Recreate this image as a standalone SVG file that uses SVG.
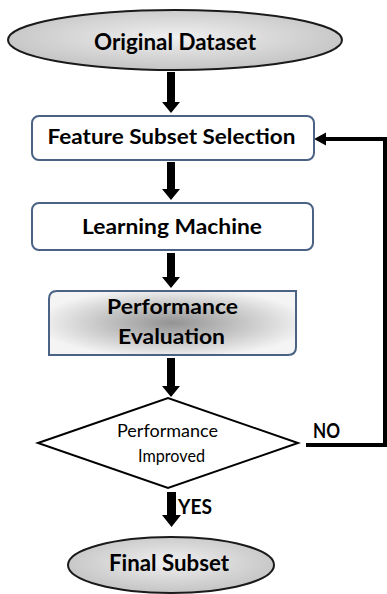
<svg xmlns="http://www.w3.org/2000/svg" width="387" height="594" viewBox="0 0 387 594">
  <defs>
    <radialGradient id="ellGrad" cx="50%" cy="45%" r="55%">
      <stop offset="0%" stop-color="#f0f0f0"/>
      <stop offset="100%" stop-color="#c4c4c4"/>
    </radialGradient>
    <radialGradient id="evalGrad" cx="50%" cy="50%" r="55%">
      <stop offset="0%" stop-color="#939393"/>
      <stop offset="100%" stop-color="#f4f4f4"/>
    </radialGradient>
  </defs>
  <style>
    .ell { fill: url(#ellGrad); stroke: #1a1a1a; stroke-width: 2; }
    .box { fill: #ffffff; stroke: #4a6385; stroke-width: 2; }
    .evalbox { fill: url(#evalGrad); stroke: #4a6385; stroke-width: 2; }
    .dia { fill: #ffffff; stroke: #000000; stroke-width: 2; }
    .t { font-family: Lato, "Open Sans", "Liberation Sans", sans-serif; fill: #000; text-anchor: middle; }
    .s { text-anchor: start; }
    .b { font-weight: bold; }
    .arrow { fill: #000; }
    .fb { fill: none; stroke: #000; stroke-width: 4; }
  </style>

  <g id="connectors">
    <polygon class="arrow" points="167,72 175,72 175,102 180,102 171,113 162,102 167,102"/>
    <polygon class="arrow" points="167,162 175,162 175,189 180,189 171,200 162,189 167,189"/>
    <polygon class="arrow" points="167,253 175,253 175,277 180,277 171,288 162,277 167,277"/>
    <polygon class="arrow" points="167,358 175,358 175,386 180,386 171,397 162,386 167,386"/>
    <polygon class="arrow" points="167,492 176,492 176,515 181,515 171.5,527 162,515 167,515"/>
    <polyline class="fb" points="306,445 385,445 385,139 325,139"/>
    <polygon class="arrow" points="314,139 326,132.5 326,145.5"/>
    <text class="t b s" x="313" y="438" font-size="20" textLength="27" lengthAdjust="spacingAndGlyphs">NO</text>
    <text class="t b s" x="178" y="514" font-size="20" textLength="34" lengthAdjust="spacingAndGlyphs">YES</text>
  </g>

  <g id="original-dataset">
    <ellipse class="ell" cx="175" cy="40" rx="167" ry="30"/>
    <text class="t b" x="175" y="49.5" font-size="22" textLength="162" lengthAdjust="spacingAndGlyphs">Original Dataset</text>
  </g>

  <g id="feature-subset-selection">
    <rect class="box" x="32" y="116" width="282" height="44" rx="7"/>
    <text class="t b" x="171.5" y="144" font-size="21" textLength="248" lengthAdjust="spacingAndGlyphs">Feature Subset Selection</text>
  </g>

  <g id="learning-machine">
    <rect class="box" x="32" y="203" width="281" height="47" rx="7"/>
    <text class="t b" x="172" y="234" font-size="21" textLength="180" lengthAdjust="spacingAndGlyphs">Learning Machine</text>
  </g>

  <g id="performance-evaluation">
    <path class="evalbox" d="M49,355 L49,299 Q49,291 57,291 L296,291 L296,347 Q296,355 288,355 Z"/>
    <text class="t b" x="172.5" y="314" font-size="21" textLength="131" lengthAdjust="spacingAndGlyphs">Performance</text>
    <text class="t b" x="171.5" y="344" font-size="21" textLength="107" lengthAdjust="spacingAndGlyphs">Evaluation</text>
  </g>

  <g id="performance-improved">
    <polygon class="dia" points="38,443 168,398 298,443 168,488"/>
    <text class="t" x="167.5" y="437" font-size="17" textLength="101" lengthAdjust="spacingAndGlyphs">Performance</text>
    <text class="t" x="171.5" y="462" font-size="17" textLength="67" lengthAdjust="spacingAndGlyphs">Improved</text>
  </g>

  <g id="final-subset">
    <ellipse class="ell" cx="171" cy="565" rx="103" ry="28"/>
    <text class="t b" x="169" y="571" font-size="22" textLength="120" lengthAdjust="spacingAndGlyphs">Final Subset</text>
  </g>
</svg>
